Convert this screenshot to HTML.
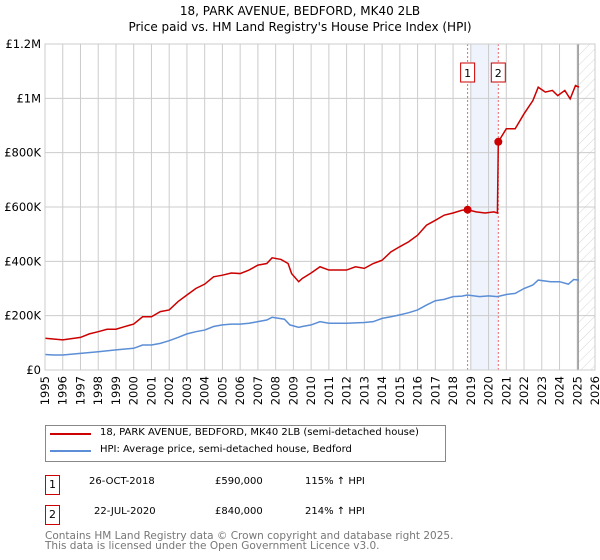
<!DOCTYPE html>
<html><head><meta charset="utf-8"><style>
body{margin:0;width:600px;height:560px;background:#fff;font-family:"DejaVu Sans","Liberation Sans",sans-serif;overflow:hidden;position:relative}
.t{position:absolute;font-size:11px;color:#000;white-space:nowrap}
.box{position:absolute;border:1px solid #c00;width:13px;height:18px;font-size:11px;text-align:center;line-height:18px}
</style></head><body>
<svg id="c" width="600" height="420" style="position:absolute;left:0;top:0" font-family="DejaVu Sans, Liberation Sans, sans-serif">
<defs><pattern id="h" width="7" height="7" patternUnits="userSpaceOnUse" patternTransform="rotate(45)"><line x1="0" y1="0" x2="0" y2="7" stroke="#ccc" stroke-width="0.8"/></pattern></defs>
<text x="300" y="15" font-size="12" text-anchor="middle">18, PARK AVENUE, BEDFORD, MK40 2LB</text>
<text x="300" y="31" font-size="12" text-anchor="middle">Price paid vs. HM Land Registry's House Price Index (HPI)</text>
<g id="g"></g>
</svg>
<div style="position:absolute;left:45px;top:425px;width:399px;height:35px;border:1px solid #888"></div>
<div style="position:absolute;left:50px;top:433px;width:41px;height:2px;background:#c00"></div>
<div class="t" style="left:100px;top:427px;font-size:10px">18, PARK AVENUE, BEDFORD, MK40 2LB (semi-detached house)</div>
<div style="position:absolute;left:50px;top:450px;width:41px;height:2px;background:#5b8ed6"></div>
<div class="t" style="left:100px;top:444px;font-size:10px">HPI: Average price, semi-detached house, Bedford</div>
<div class="box" style="left:45px;top:475px">1</div>
<div class="t" style="left:89px;top:476px;font-size:10px">26-OCT-2018</div>
<div class="t" style="left:215px;top:476px;font-size:10px">£590,000</div>
<div class="t" style="left:305px;top:476px;font-size:10px">115% ↑ HPI</div>
<div class="box" style="left:45px;top:505px">2</div>
<div class="t" style="left:94px;top:506px;font-size:10px">22-JUL-2020</div>
<div class="t" style="left:215px;top:506px;font-size:10px">£840,000</div>
<div class="t" style="left:305px;top:506px;font-size:10px">214% ↑ HPI</div>
<div class="t" style="left:45px;top:531px;color:#777;line-height:10px;font-size:10.5px">Contains HM Land Registry data © Crown copyright and database right 2025.<br>This data is licensed under the Open Government Licence v3.0.</div>
<script>
const hpiYears=[1995,1995.5,1996,1997,1998,1999,2000,2000.5,2001,2001.5,2002,2002.5,2003,2003.5,2004,2004.5,2005,2005.5,2006,2006.5,2007,2007.5,2007.8,2008.5,2008.8,2009.3,2009.5,2010,2010.5,2011,2012,2013,2013.5,2014,2014.5,2015,2015.5,2016,2016.5,2017,2017.5,2018,2018.5,2018.8,2019.5,2020,2020.5,2021,2021.5,2022,2022.5,2022.8,2023.5,2024,2024.5,2024.8,2025.1];
const hpiValues=[57,55,55,61,67,74,80,92,92,98,108,120,133,141,147,160,166,169,169,172,178,184,194,187,166,157,160,166,178,172,172,175,178,190,196,203,211,221,239,255,260,270,272,276,270,273,270,278,282,300,313,331,325,325,316,333,331];
const priceYears=[1995,1996,1997,1997.5,1998,1998.5,1999,1999.5,2000,2000.5,2001,2001.5,2002,2002.5,2003,2003.5,2004,2004.5,2005,2005.5,2006,2006.5,2007,2007.5,2007.8,2008.3,2008.7,2008.9,2009.3,2009.5,2010,2010.5,2011,2012,2012.5,2013,2013.5,2014,2014.5,2015,2015.5,2016,2016.5,2017,2017.5,2018,2018.5,2018.82,2019.3,2019.8,2020.3,2020.5,2020.55,2021,2021.5,2022,2022.5,2022.8,2023.2,2023.6,2023.9,2024.3,2024.6,2024.9,2025.1];
const priceValues=[117,111,120,133,141,150,150,160,169,196,196,215,221,252,276,300,316,343,349,357,355,368,386,392,413,407,392,355,325,337,357,380,368,368,380,374,392,404,435,454,472,496,533,551,570,578,588,590,582,578,582,578,840,888,888,943,992,1041,1023,1029,1010,1029,998,1047,1041];
const saleYears=[2018.82,2020.55];
const saleValues=[590,840];
const yTicks=[0,200,400,600,800,1000,1200];
const yTickLabels=["£0","£200K","£400K","£600K","£800K","£1M","£1.2M"];
const xTicks=[1995,1996,1997,1998,1999,2000,2001,2002,2003,2004,2005,2006,2007,2008,2009,2010,2011,2012,2013,2014,2015,2016,2017,2018,2019,2020,2021,2022,2023,2024,2025,2026];
const X0=45,X1=595,Y0=370,Y1=44;
const xs=y=>X0+(y-1995)/31*(X1-X0);
const ys=v=>Y0-v/1200*(Y0-Y1);
const g=document.getElementById('g');const NS='http://www.w3.org/2000/svg';
function mk(t,a,name){const e=document.createElementNS(NS,t);for(const k in a)e.setAttribute(k,a[k]);


g.appendChild(e);return e;}
mk('rect',{x:xs(2018.95),y:Y1,width:xs(2020.55)-xs(2018.95),height:Y0-Y1,fill:'#eef3fc'},'highlight-band');
mk('rect',{x:xs(2025.05),y:Y1,width:X1-xs(2025.05),height:Y0-Y1,fill:'url(#h)'},'forecast-hatch');
xTicks.forEach(v=>{mk('line',{x1:xs(v),x2:xs(v),y1:Y1,y2:Y0,stroke:'#ccc'},'x-gridline');
const t=mk('text',{x:0,y:0,'font-size':11.5,'text-anchor':'end',transform:`translate(${xs(v)+4},${Y0+6}) rotate(-90)`},'x-tick-label');t.textContent=v;});
yTicks.forEach((v,i)=>{mk('line',{x1:X0,x2:X1,y1:ys(v),y2:ys(v),stroke:'#ccc'},'y-gridline');
const t=mk('text',{x:X0-4,y:ys(v)+4,'font-size':11.5,'text-anchor':'end'},'y-tick-label');t.textContent=yTickLabels[i];});
mk('line',{x1:xs(2025.05),x2:xs(2025.05),y1:Y1,y2:Y0,stroke:'#999','stroke-width':1.5},'data-end-line');
saleYears.forEach((y,i)=>{mk('line',{x1:xs(y),x2:xs(y),y1:Y1,y2:Y0,stroke:'#e66','stroke-dasharray':'2,2'},'sale-marker-line');
mk('rect',{x:xs(y)-7,y:63,width:14,height:19,fill:'#fff',stroke:'#c00'},'sale-label-box');
const t=mk('text',{x:xs(y),y:77,'font-size':11,'text-anchor':'middle'},'sale-label');t.textContent=i+1;});
mk('polyline',{points:hpiYears.map((y,i)=>xs(y)+','+ys(hpiValues[i])).join(' '),fill:'none',stroke:'#5b8ed6','stroke-width':1.5},'hpi-line');
mk('polyline',{points:priceYears.map((y,i)=>xs(y)+','+ys(priceValues[i])).join(' '),fill:'none',stroke:'#c00','stroke-width':1.5},'price-line');
saleYears.forEach((y,i)=>mk('circle',{cx:xs(y),cy:ys(saleValues[i]),r:4,fill:'#c00'},'sale-point'));
mk('rect',{x:X0,y:Y1,width:X1-X0,height:Y0-Y1,fill:'none',stroke:'#ccc'},'plot-border');
</script>
</body></html>
